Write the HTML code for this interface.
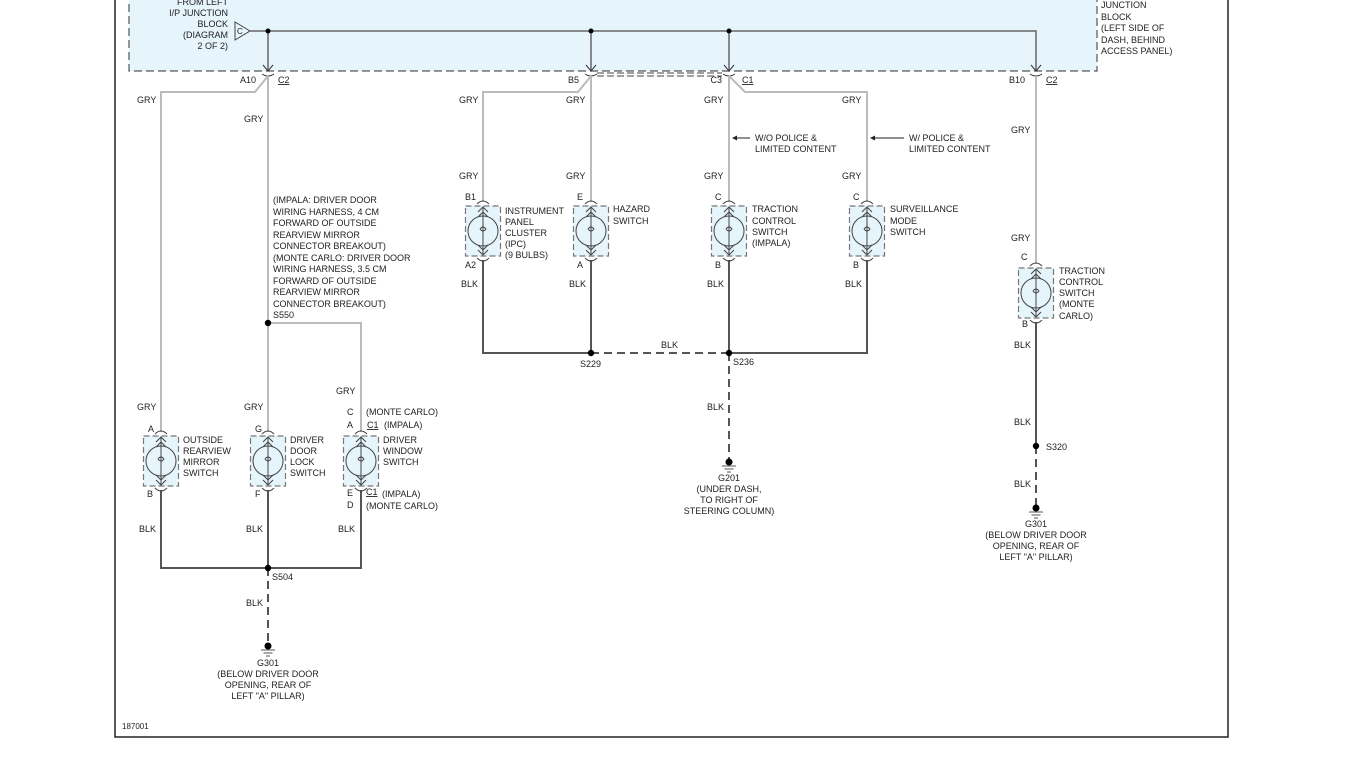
<!DOCTYPE html>
<html><head><meta charset="utf-8"><style>
html,body{margin:0;padding:0;background:#fff;}
svg{display:block;}
text{font-family:"Liberation Sans",Arial,sans-serif;font-size:9px;fill:#222;}
</style></head><body>
<svg width="1365" height="768" viewBox="0 0 1365 768" xmlns="http://www.w3.org/2000/svg">
<defs>
<symbol id="sw" overflow="visible">
  <rect x="-17.5" y="-25" width="35" height="50" fill="#e6f4fc" stroke="#777" stroke-width="1.2" stroke-dasharray="6,3"/>
  <circle cx="0" cy="0" r="15" fill="none" stroke="#444" stroke-width="1"/>
  <path d="M0,-24 V24 M-5,-19 L0,-24 L5,-19 M-5,-14 L0,-19 L5,-14 M-5,19 L0,24 L5,19 M-5,14 L0,19 L5,14" fill="none" stroke="#444" stroke-width="1"/>
  <path d="M-3,-2 Q0,-6 3,-2 Q0,2 -3,-2" fill="none" stroke="#444" stroke-width="1"/>
  <path d="M-6,-27 Q0,-33 6,-27" fill="none" stroke="#444" stroke-width="1"/>
  <path d="M-6,27 Q0,33 6,27" fill="none" stroke="#444" stroke-width="1"/>
</symbol>
<symbol id="gnd" overflow="visible">
  <circle cx="0" cy="0" r="3.5" fill="#000"/>
  <path d="M-7,4 H7 M-4.5,7 H4.5 M-2,10 H2" stroke="#555" stroke-width="1"/>
</symbol>
<symbol id="drop" overflow="visible">
  <path d="M-5,-6 L0,0 L5,-6" fill="none" stroke="#333" stroke-width="1"/>
  <path d="M-6,3 Q0,7 6,3" fill="none" stroke="#333" stroke-width="1"/>
</symbol>
</defs>

<!-- frame -->
<rect x="115" y="-5" width="1113" height="742" fill="none" stroke="#222" stroke-width="1.5"/>
<!-- junction block -->
<rect x="129" y="-10" width="968" height="81" fill="#e6f4fc" stroke="#555" stroke-width="1.2" stroke-dasharray="8,4"/>
<text x="228" y="5" text-anchor="end">FROM LEFT</text>
<text x="228" y="16" text-anchor="end">I/P JUNCTION</text>
<text x="228" y="27" text-anchor="end">BLOCK</text>
<text x="228" y="38" text-anchor="end">(DIAGRAM</text>
<text x="228" y="49" text-anchor="end">2 OF 2)</text>
<path d="M235,22 L250,31 L235,40 Z" fill="none" stroke="#444" stroke-width="1"/>
<text x="237" y="34" style="font-size:8px">C</text>
<text x="1101" y="8">JUNCTION</text>
<text x="1101" y="20">BLOCK</text>
<text x="1101" y="31">(LEFT SIDE OF</text>
<text x="1101" y="43">DASH, BEHIND</text>
<text x="1101" y="54">ACCESS PANEL)</text>
<path d="M250,31 H1036 V70 M268,31 V70 M591,31 V70 M729,31 V70" fill="none" stroke="#666" stroke-width="1.5"/>
<circle cx="268" cy="31" r="2.5" fill="#000"/>
<circle cx="591" cy="31" r="2.5" fill="#000"/>
<circle cx="729" cy="31" r="2.5" fill="#000"/>
<use href="#drop" x="268" y="71"/>
<use href="#drop" x="591" y="71"/>
<use href="#drop" x="729" y="71"/>
<use href="#drop" x="1036" y="71"/>
<path d="M597,73 H722 M597,76 H722" stroke="#444" stroke-width="1" stroke-dasharray="7,3"/>
<text x="256" y="83" text-anchor="end">A10</text><text x="278" y="83" text-decoration="underline">C2</text>
<text x="579" y="83" text-anchor="end">B5</text>
<text x="722" y="83" text-anchor="end">C3</text><text x="742" y="83" text-decoration="underline">C1</text>
<text x="1025" y="83" text-anchor="end">B10</text><text x="1046" y="83" text-decoration="underline">C2</text>

<!-- GRY wires -->
<g fill="none" stroke="#bbb" stroke-width="2">
<path d="M268,76 L255,92 H161 V432"/>
<path d="M268,76 V432"/>
<path d="M268,323 H361 V432"/>
<path d="M591,76 L578,92 H483 V202"/>
<path d="M591,76 V202"/>
<path d="M729,76 V202"/>
<path d="M729,76 L745,92 H867 V202"/>
<path d="M1036,76 V264"/>
</g>
<!-- BLK wires -->
<g fill="none" stroke="#555" stroke-width="2">
<path d="M161,490 V568 H361 V490 M268,490 V568"/>
<path d="M483,260 V353 H591 M591,260 V353 M729,260 V353 M729,353 H867 V260"/>
<path d="M1036,322 V446"/>
<path d="M591,353 H729" stroke-dasharray="8,5"/>
<path d="M268,568 V645 M729,353 V460 M1036,446 V506" stroke-dasharray="8,5"/>
</g>
<circle cx="268" cy="323" r="3.2" fill="#000"/>
<circle cx="268" cy="568" r="3.2" fill="#000"/>
<circle cx="591" cy="353" r="3.2" fill="#000"/>
<circle cx="729" cy="353" r="3.2" fill="#000"/>
<circle cx="1036" cy="446" r="3.2" fill="#000"/>
<use href="#gnd" x="268" y="646"/>
<use href="#gnd" x="729" y="462"/>
<use href="#gnd" x="1036" y="508"/>

<!-- switches -->
<use href="#sw" x="161" y="461"/>
<use href="#sw" x="268" y="461"/>
<use href="#sw" x="361" y="461"/>
<use href="#sw" x="483" y="231"/>
<use href="#sw" x="591" y="231"/>
<use href="#sw" x="729" y="231"/>
<use href="#sw" x="867" y="231"/>
<use href="#sw" x="1036" y="293"/>

<!-- labels left -->
<text x="137" y="103">GRY</text>
<text x="244" y="122">GRY</text>
<text x="273" y="203">(IMPALA: DRIVER DOOR</text>
<text x="273" y="215">WIRING HARNESS, 4 CM</text>
<text x="273" y="226">FORWARD OF OUTSIDE</text>
<text x="273" y="238">REARVIEW MIRROR</text>
<text x="273" y="249">CONNECTOR BREAKOUT)</text>
<text x="273" y="261">(MONTE CARLO: DRIVER DOOR</text>
<text x="273" y="272">WIRING HARNESS, 3.5 CM</text>
<text x="273" y="284">FORWARD OF OUTSIDE</text>
<text x="273" y="295">REARVIEW MIRROR</text>
<text x="273" y="307">CONNECTOR BREAKOUT)</text>
<text x="273" y="318">S550</text>
<text x="336" y="394">GRY</text>
<text x="137" y="410">GRY</text>
<text x="244" y="410">GRY</text>
<text x="347" y="415">C</text><text x="366" y="415">(MONTE CARLO)</text>
<text x="347" y="428">A</text><text x="367" y="428" text-decoration="underline">C1</text><text x="384" y="428">(IMPALA)</text>
<text x="148" y="432">A</text>
<text x="255" y="432">G</text>
<text x="183" y="443">OUTSIDE</text><text x="183" y="454">REARVIEW</text><text x="183" y="465">MIRROR</text><text x="183" y="476">SWITCH</text>
<text x="290" y="443">DRIVER</text><text x="290" y="454">DOOR</text><text x="290" y="465">LOCK</text><text x="290" y="476">SWITCH</text>
<text x="383" y="443">DRIVER</text><text x="383" y="454">WINDOW</text><text x="383" y="465">SWITCH</text>
<text x="147" y="497">B</text>
<text x="255" y="497">F</text>
<text x="347" y="496">E</text><text x="366" y="495" text-decoration="underline">C1</text><text x="382" y="497">(IMPALA)</text>
<text x="347" y="508">D</text><text x="366" y="509">(MONTE CARLO)</text>
<text x="139" y="532">BLK</text>
<text x="246" y="532">BLK</text>
<text x="338" y="532">BLK</text>
<text x="272" y="580">S504</text>
<text x="246" y="606">BLK</text>
<text x="268" y="666" text-anchor="middle">G301</text>
<text x="268" y="677" text-anchor="middle">(BELOW DRIVER DOOR</text>
<text x="268" y="688" text-anchor="middle">OPENING, REAR OF</text>
<text x="268" y="699" text-anchor="middle">LEFT "A" PILLAR)</text>
<text x="122" y="729" style="font-size:8px">187001</text>

<!-- labels middle -->
<text x="459" y="103">GRY</text>
<text x="566" y="103">GRY</text>
<text x="704" y="103">GRY</text>
<text x="842" y="103">GRY</text>
<path d="M733,138 H750" stroke="#222" stroke-width="1"/><path d="M732,138 L737,135.5 L737,140.5 Z" fill="#222"/>
<text x="755" y="141">W/O POLICE &amp;</text><text x="755" y="152">LIMITED CONTENT</text>
<path d="M871,138 H904" stroke="#222" stroke-width="1"/><path d="M870,138 L875,135.5 L875,140.5 Z" fill="#222"/>
<text x="909" y="141">W/ POLICE &amp;</text><text x="909" y="152">LIMITED CONTENT</text>
<text x="459" y="179">GRY</text>
<text x="566" y="179">GRY</text>
<text x="704" y="179">GRY</text>
<text x="842" y="179">GRY</text>
<text x="465" y="200">B1</text>
<text x="577" y="200">E</text>
<text x="715" y="200">C</text>
<text x="853" y="200">C</text>
<text x="505" y="214">INSTRUMENT</text><text x="505" y="225">PANEL</text><text x="505" y="236">CLUSTER</text><text x="505" y="247">(IPC)</text><text x="505" y="258">(9 BULBS)</text>
<text x="613" y="212">HAZARD</text><text x="613" y="224">SWITCH</text>
<text x="752" y="212">TRACTION</text><text x="752" y="224">CONTROL</text><text x="752" y="235">SWITCH</text><text x="752" y="246">(IMPALA)</text>
<text x="890" y="212">SURVEILLANCE</text><text x="890" y="224">MODE</text><text x="890" y="235">SWITCH</text>
<text x="465" y="268">A2</text>
<text x="577" y="268">A</text>
<text x="715" y="268">B</text>
<text x="853" y="268">B</text>
<text x="461" y="287">BLK</text>
<text x="569" y="287">BLK</text>
<text x="707" y="287">BLK</text>
<text x="845" y="287">BLK</text>
<text x="661" y="348">BLK</text>
<text x="580" y="367">S229</text>
<text x="733" y="365">S236</text>
<text x="707" y="410">BLK</text>
<text x="729" y="481" text-anchor="middle">G201</text>
<text x="729" y="492" text-anchor="middle">(UNDER DASH,</text>
<text x="729" y="503" text-anchor="middle">TO RIGHT OF</text>
<text x="729" y="514" text-anchor="middle">STEERING COLUMN)</text>

<!-- right -->
<text x="1011" y="133">GRY</text>
<text x="1011" y="241">GRY</text>
<text x="1021" y="260">C</text>
<text x="1059" y="274">TRACTION</text><text x="1059" y="285">CONTROL</text><text x="1059" y="296">SWITCH</text><text x="1059" y="307">(MONTE</text><text x="1059" y="319">CARLO)</text>
<text x="1022" y="327">B</text>
<text x="1014" y="348">BLK</text>
<text x="1014" y="425">BLK</text>
<text x="1046" y="450">S320</text>
<text x="1014" y="487">BLK</text>
<text x="1036" y="527" text-anchor="middle">G301</text>
<text x="1036" y="538" text-anchor="middle">(BELOW DRIVER DOOR</text>
<text x="1036" y="549" text-anchor="middle">OPENING, REAR OF</text>
<text x="1036" y="560" text-anchor="middle">LEFT "A" PILLAR)</text>
</svg>
</body></html>
